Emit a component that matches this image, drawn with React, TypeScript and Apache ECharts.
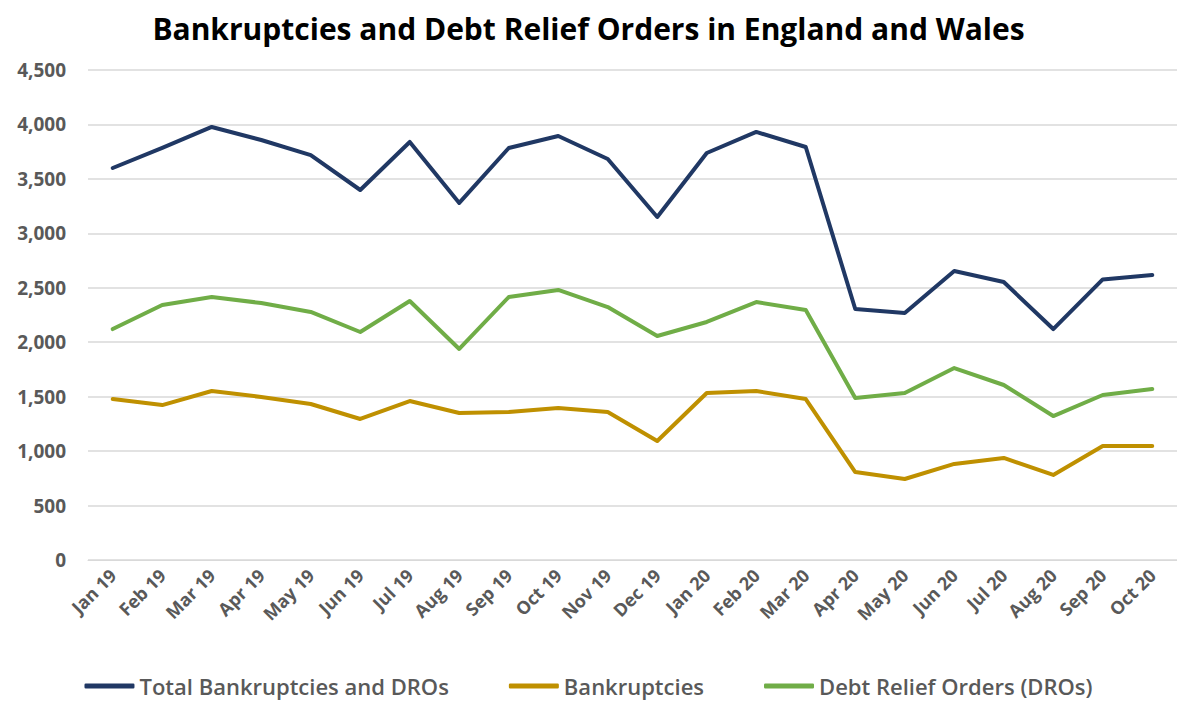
import React, { useEffect, useRef } from "react";
import * as echarts from "echarts";

const months = ["Jan 19","Feb 19","Mar 19","Apr 19","May 19","Jun 19","Jul 19","Aug 19","Sep 19","Oct 19","Nov 19","Dec 19","Jan 20","Feb 20","Mar 20","Apr 20","May 20","Jun 20","Jul 20","Aug 20","Sep 20","Oct 20"];
const total = [3600,3784,3977,3857,3719,3398,3839,3279,3784,3894,3683,3150,3738,3931,3793,2305,2268,2654,2553,2121,2577,2617];
const bankruptcies = [1478,1423,1552,1497,1433,1295,1460,1350,1359,1396,1359,1093,1534,1552,1478,808,744,882,937,781,1047,1047];
const dros = [2121,2342,2415,2360,2278,2094,2379,1938,2415,2480,2323,2057,2186,2369,2296,1488,1534,1763,1607,1322,1515,1570];

export default function App() {
  const ref = useRef<HTMLDivElement>(null);
  useEffect(() => {
    if (!ref.current) return;
    const chart = echarts.init(ref.current, undefined, { renderer: "svg" });
    const font = "'Open Sans', sans-serif";
    const mk = (name: string, data: number[], color: string) => ({
      name, type: "line", data, symbol: "none",
      lineStyle: { color, width: 4, cap: "round", join: "round" },
      itemStyle: { color },
    });
    chart.setOption({
      animation: false,
      backgroundColor: "#ffffff",
      title: {
        text: "Bankruptcies and Debt Relief Orders in England and Wales",
        left: "center", top: 8,
        textStyle: { fontFamily: font, fontWeight: "bold", fontSize: 30, color: "#000000" },
      },
      legend: {
        bottom: 0, left: "center",
        itemWidth: 50, itemHeight: 5, itemGap: 60,
        icon: "roundRect",
        textStyle: { fontFamily: font, fontSize: 22, fontWeight: 600, color: "#595959" },
        data: ["Total Bankruptcies and DROs", "Bankruptcies", "Debt Relief Orders (DROs)"],
      },
      grid: { left: 88, right: -6, top: 70, bottom: 142, containLabel: false },
      xAxis: {
        type: "category", data: months, boundaryGap: true,
        axisLine: { show: true, lineStyle: { color: "#d9d9d9", width: 1 } },
        axisTick: { show: false },
        axisLabel: { rotate: 45, interval: 0, fontFamily: font, fontWeight: "bold", fontSize: 18, color: "#595959", margin: 12 },
      },
      yAxis: {
        type: "value", min: 0, max: 4500, interval: 500,
        axisLine: { show: false }, axisTick: { show: false },
        splitLine: { lineStyle: { color: "#d9d9d9", width: 1.5 } },
        axisLabel: {
          fontFamily: font, fontWeight: "bold", fontSize: 19, color: "#595959", margin: 22,
          formatter: (v: number) => v.toLocaleString("en-US"),
        },
      },
      series: [
        mk("Total Bankruptcies and DROs", total, "#203864"),
        mk("Bankruptcies", bankruptcies, "#bf9000"),
        mk("Debt Relief Orders (DROs)", dros, "#70ad47"),
      ],
    });
    return () => chart.dispose();
  }, []);
  return <div ref={ref} style={{ position: "fixed", left: 0, top: 0, width: 1177, height: 702 }} />;
}
